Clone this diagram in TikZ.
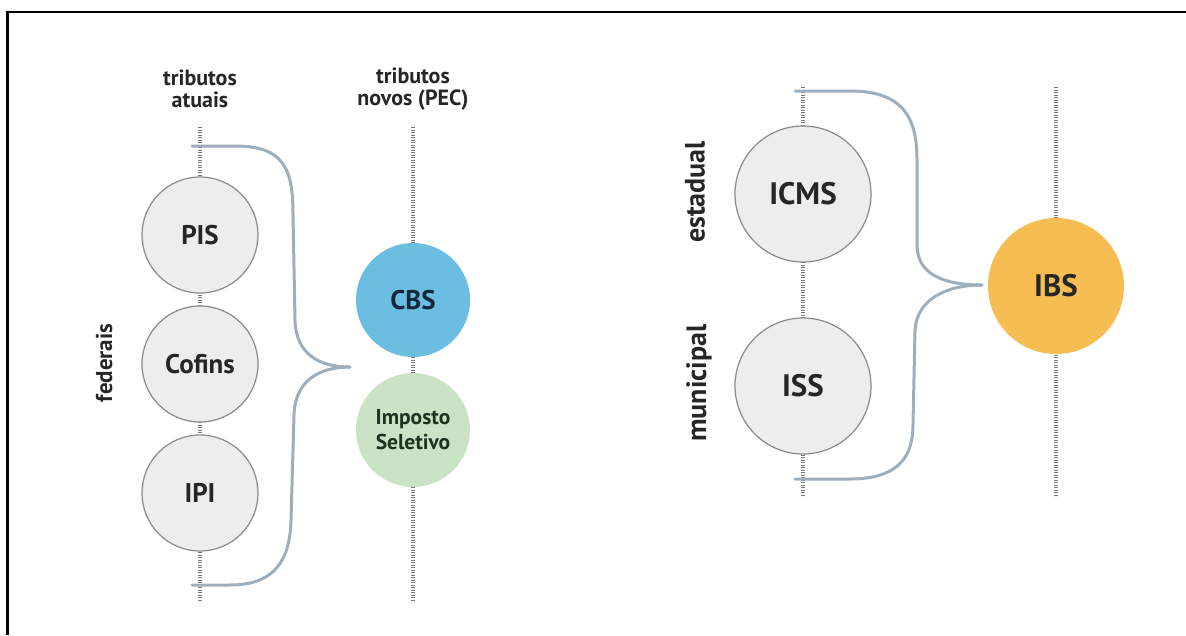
\documentclass[tikz,border=0pt]{standalone}
\usepackage{fontspec}
\setmainfont{PT Sans}
\usetikzlibrary{positioning}

\definecolor{taxgray}{HTML}{EDEDED}
\definecolor{ringgray}{HTML}{8A8A8A}
\definecolor{cbsblue}{HTML}{6CBDE2}
\definecolor{cbstext}{HTML}{15283C}
\definecolor{isgreen}{HTML}{C9E3C4}
\definecolor{istext}{HTML}{1E321F}
\definecolor{ibsorange}{HTML}{F5BD52}
\definecolor{bracegray}{HTML}{9DAEBD}
\definecolor{railgray}{HTML}{7A7A7A}

\begin{document}
\begin{tikzpicture}[
    x=1pt, y=-1pt,
    rail/.style={draw=railgray, line width=4pt, dash pattern=on 1.2pt off 1.3pt},
    brace/.style={draw=bracegray, line width=3pt, line cap=round},
    tax/.style={circle, draw=ringgray, line width=1.2pt, fill=taxgray, inner sep=0pt,
        minimum size=116pt, text=black!85, font=\bfseries\fontsize{27}{29}\selectfont},
    bigtax/.style={tax, minimum size=136pt, font=\bfseries\fontsize{31}{33}\selectfont},
    head/.style={align=center, font=\bfseries\fontsize{22}{22}\selectfont, text=black!85},
    side/.style={rotate=90, font=\bfseries\fontsize{23}{25}\selectfont, text=black!85},
    bigside/.style={side, font=\bfseries\fontsize{28}{30}\selectfont}
]

% Page and frame
\useasboundingbox (0,0) rectangle (1186,635);
\draw[line width=2.5pt] (7.5,635) -- (7.5,12) -- (1186,12);

% Define coordinates
\coordinate (old_top) at (200,127);
\coordinate (old_bot) at (200,602);
\coordinate (new_top) at (413,127);
\coordinate (new_bot) at (413,602);
\coordinate (st_top) at (803,87);
\coordinate (st_bot) at (803,497);
\coordinate (ibs_top) at (1056,87);
\coordinate (ibs_bot) at (1056,497);

% Draw rails
\draw[rail] (old_top) -- (old_bot);
\draw[rail] (new_top) -- (new_bot);
\draw[rail] (st_top) -- (st_bot);
\draw[rail] (ibs_top) -- (ibs_bot);

% Column heads
\node[head] (h_old) at (200,89) {tributos\\atuais};
\node[head] (h_new) at (413,89) {tributos\\novos (PEC)};

% Federal taxes
\node[tax] (pis) at (200,235) {PIS};
\node[tax] (cofins) at (200,364) {Cofins};
\node[tax] (ipi) at (200,493) {IPI};
\node[side] (federais) at (104,363) {federais};

% New federal taxes
\node[tax, draw=none, fill=cbsblue, text=cbstext, minimum size=114pt] (cbs) at (413,300) {CBS};
\node[tax, draw=none, fill=isgreen, text=istext, minimum size=114pt, align=center,
    font=\bfseries\fontsize{21.5}{25}\selectfont] (is) at (413,430) {Imposto\\Seletivo};

% State and municipal taxes
\node[bigtax] (icms) at (803,194) {ICMS};
\node[bigtax] (iss) at (803,386) {ISS};
\node[bigside] (estadual) at (695,192) {estadual};
\node[bigside] (municipal) at (699,383) {municipal};
\node[bigtax, draw=none, fill=ibsorange, text=black!85] (ibs) at (1056,286) {IBS};

% Braces
\coordinate (fb_top) at (192,146);
\coordinate (fb_bot) at (192,585);
\coordinate (fb_tip) at (350,367);
\draw[brace] (fb_top) -- (235,146) .. controls (285,146) and (293,170) .. (293,215)
    -- (295,320) .. controls (296,355) and (320,367) .. (fb_tip);
\draw[brace] (fb_bot) -- (230,585) .. controls (275,585) and (290,560) .. (291,520)
    -- (294,415) .. controls (295,380) and (320,367) .. (fb_tip);

\coordinate (sb_top) at (795,91);
\coordinate (sb_bot) at (795,479);
\coordinate (sb_tip) at (982,285);
\draw[brace] (sb_top) -- (850,91) .. controls (905,91) and (917,120) .. (917,160)
    -- (917,245) .. controls (917,275) and (945,285) .. (sb_tip);
\draw[brace] (sb_bot) -- (850,479) .. controls (900,479) and (913,455) .. (913,425)
    -- (915,330) .. controls (917,300) and (945,285) .. (sb_tip);

\end{tikzpicture}
\end{document}
